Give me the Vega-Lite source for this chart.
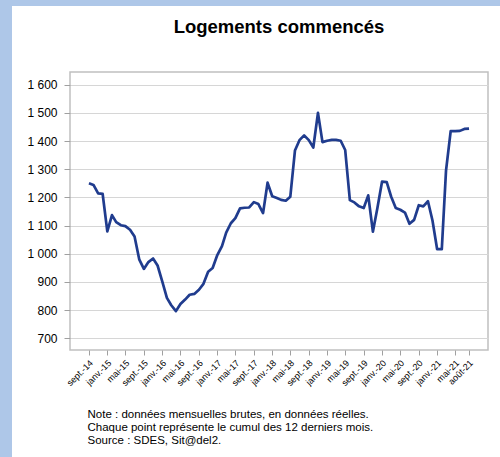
{
  "$schema": "https://vega.github.io/schema/vega-lite/v6.json",
  "background": "white",
  "padding": 0,
  "spacing": 0,
  "config": {"view": {"stroke": null}},
  "vconcat": [
    {
      "width": 500, "height": 6,
      "data": {"values": []},
      "mark": "rect",
      "encoding": {},
      "view": {"fill": "#aec7e8", "stroke": null}
    },
    {
      "spacing": 14,
      "hconcat": [
        {
          "width": 12, "height": 451,
          "data": {"values": []},
          "mark": "rect",
          "encoding": {},
          "view": {"fill": "#aec7e8", "stroke": null}
        },
        {
          "spacing": 9,
          "vconcat": [
            {
              "width": 10, "height": 1,
              "data": {"values": []},
              "mark": "rect",
              "encoding": {},
              "view": {"fill": "white", "stroke": null}
            },
            {
              "width": 418,
              "height": 278,
              "title": {"text": "Logements commencés", "font": "Liberation Sans", "fontSize": 18.5, "fontWeight": "bold", "color": "black", "anchor": "middle", "offset": 36},
              "data": {"values": [
                {"mois": "2014-09-01", "v": 1250}, {"mois": "2014-10-01", "v": 1244}, {"mois": "2014-11-01", "v": 1214}, {"mois": "2014-12-01", "v": 1212},
                {"mois": "2015-01-01", "v": 1079}, {"mois": "2015-02-01", "v": 1137}, {"mois": "2015-03-01", "v": 1112}, {"mois": "2015-04-01", "v": 1101},
                {"mois": "2015-05-01", "v": 1098}, {"mois": "2015-06-01", "v": 1085}, {"mois": "2015-07-01", "v": 1061}, {"mois": "2015-08-01", "v": 980},
                {"mois": "2015-09-01", "v": 946}, {"mois": "2015-10-01", "v": 970}, {"mois": "2015-11-01", "v": 983}, {"mois": "2015-12-01", "v": 958},
                {"mois": "2016-01-01", "v": 902}, {"mois": "2016-02-01", "v": 843}, {"mois": "2016-03-01", "v": 817}, {"mois": "2016-04-01", "v": 796},
                {"mois": "2016-05-01", "v": 821}, {"mois": "2016-06-01", "v": 837}, {"mois": "2016-07-01", "v": 854}, {"mois": "2016-08-01", "v": 857},
                {"mois": "2016-09-01", "v": 872}, {"mois": "2016-10-01", "v": 893}, {"mois": "2016-11-01", "v": 936}, {"mois": "2016-12-01", "v": 949},
                {"mois": "2017-01-01", "v": 995}, {"mois": "2017-02-01", "v": 1027}, {"mois": "2017-03-01", "v": 1075}, {"mois": "2017-04-01", "v": 1108},
                {"mois": "2017-05-01", "v": 1126}, {"mois": "2017-06-01", "v": 1161}, {"mois": "2017-07-01", "v": 1163}, {"mois": "2017-08-01", "v": 1164},
                {"mois": "2017-09-01", "v": 1183}, {"mois": "2017-10-01", "v": 1176}, {"mois": "2017-11-01", "v": 1144}, {"mois": "2017-12-01", "v": 1252},
                {"mois": "2018-01-01", "v": 1204}, {"mois": "2018-02-01", "v": 1198}, {"mois": "2018-03-01", "v": 1191}, {"mois": "2018-04-01", "v": 1188},
                {"mois": "2018-05-01", "v": 1202}, {"mois": "2018-06-01", "v": 1366}, {"mois": "2018-07-01", "v": 1403}, {"mois": "2018-08-01", "v": 1420},
                {"mois": "2018-09-01", "v": 1403}, {"mois": "2018-10-01", "v": 1377}, {"mois": "2018-11-01", "v": 1500}, {"mois": "2018-12-01", "v": 1396},
                {"mois": "2019-01-01", "v": 1401}, {"mois": "2019-02-01", "v": 1404}, {"mois": "2019-03-01", "v": 1404}, {"mois": "2019-04-01", "v": 1401},
                {"mois": "2019-05-01", "v": 1368}, {"mois": "2019-06-01", "v": 1190}, {"mois": "2019-07-01", "v": 1182}, {"mois": "2019-08-01", "v": 1168},
                {"mois": "2019-09-01", "v": 1162}, {"mois": "2019-10-01", "v": 1207}, {"mois": "2019-11-01", "v": 1078}, {"mois": "2019-12-01", "v": 1162},
                {"mois": "2020-01-01", "v": 1256}, {"mois": "2020-02-01", "v": 1254}, {"mois": "2020-03-01", "v": 1203}, {"mois": "2020-04-01", "v": 1162},
                {"mois": "2020-05-01", "v": 1156}, {"mois": "2020-06-01", "v": 1146}, {"mois": "2020-07-01", "v": 1106}, {"mois": "2020-08-01", "v": 1120},
                {"mois": "2020-09-01", "v": 1172}, {"mois": "2020-10-01", "v": 1168}, {"mois": "2020-11-01", "v": 1186}, {"mois": "2020-12-01", "v": 1118},
                {"mois": "2021-01-01", "v": 1016}, {"mois": "2021-02-01", "v": 1016}, {"mois": "2021-03-01", "v": 1295}, {"mois": "2021-04-01", "v": 1435},
                {"mois": "2021-05-01", "v": 1435}, {"mois": "2021-06-01", "v": 1436}, {"mois": "2021-07-01", "v": 1443}, {"mois": "2021-08-01", "v": 1444}
              ]},
              "mark": {"type": "line", "color": "#203c8e", "strokeWidth": 2.7, "strokeJoin": "round"},
              "encoding": {
                "x": {
                  "field": "mois", "type": "temporal",
                  "scale": {"type": "utc", "domain": [{"year": 2014, "month": 4, "date": 28, "utc": true}, {"year": 2021, "month": 12, "date": 5, "utc": true}], "nice": false},
                  "axis": {
                    "values": [
                      {"year": 2014, "month": 9, "date": 1, "utc": true}, {"year": 2015, "month": 1, "date": 1, "utc": true}, {"year": 2015, "month": 5, "date": 1, "utc": true},
                      {"year": 2015, "month": 9, "date": 1, "utc": true}, {"year": 2016, "month": 1, "date": 1, "utc": true}, {"year": 2016, "month": 5, "date": 1, "utc": true},
                      {"year": 2016, "month": 9, "date": 1, "utc": true}, {"year": 2017, "month": 1, "date": 1, "utc": true}, {"year": 2017, "month": 5, "date": 1, "utc": true},
                      {"year": 2017, "month": 9, "date": 1, "utc": true}, {"year": 2018, "month": 1, "date": 1, "utc": true}, {"year": 2018, "month": 5, "date": 1, "utc": true},
                      {"year": 2018, "month": 9, "date": 1, "utc": true}, {"year": 2019, "month": 1, "date": 1, "utc": true}, {"year": 2019, "month": 5, "date": 1, "utc": true},
                      {"year": 2019, "month": 9, "date": 1, "utc": true}, {"year": 2020, "month": 1, "date": 1, "utc": true}, {"year": 2020, "month": 5, "date": 1, "utc": true},
                      {"year": 2020, "month": 9, "date": 1, "utc": true}, {"year": 2021, "month": 1, "date": 1, "utc": true}, {"year": 2021, "month": 5, "date": 1, "utc": true},
                      {"year": 2021, "month": 8, "date": 1, "utc": true}
                    ],
                    "labelExpr": "['janv.','févr.','mars','avr.','mai','juin','juil.','août','sept.','oct.','nov.','déc.'][utcmonth(datum.value)] + '-' + utcFormat(datum.value, '%y')",
                    "labelAngle": -45, "labelAlign": "right", "labelBaseline": "middle",
                    "labelFont": "Liberation Sans", "labelFontSize": 9, "labelColor": "black",
                    "labelPadding": 6, "labelOffset": 2, "labelOverlap": false, "labelFlush": false,
                    "tickColor": "#a0a0a0", "tickSize": 5,
                    "domain": false, "grid": false,
                    "title": ["Note : données mensuelles brutes, en données réelles.", "Chaque point représente le cumul des 12 derniers mois.", "Source : SDES, Sit@del2."],
                    "titleFont": "Liberation Sans", "titleFontSize": 11.5, "titleFontWeight": "normal", "titleColor": "black",
                    "titleAnchor": "start", "titleAlign": "left", "titleBaseline": "top", "titleAngle": 0,
                    "titleX": 17, "titleY": 58, "titleLineHeight": 13
                  }
                },
                "y": {
                  "field": "v", "type": "quantitative",
                  "scale": {"domain": [658, 1645], "nice": false, "zero": false},
                  "axis": {
                    "values": [700, 800, 900, 1000, 1100, 1200, 1300, 1400, 1500, 1600],
                    "labelExpr": "replace(format(datum.value, ','), ',', ' ')",
                    "labelFont": "Liberation Sans", "labelFontSize": 12, "labelColor": "black",
                    "labelPadding": 7,
                    "tickColor": "#a0a0a0", "tickSize": 6,
                    "domain": false,
                    "grid": true, "gridColor": "#d6d6d6", "gridWidth": 1,
                    "title": null
                  }
                }
              },
              "view": {"stroke": "#c0c0c0", "strokeWidth": 1.5}
            }
          ]
        }
      ]
    }
  ]
}
